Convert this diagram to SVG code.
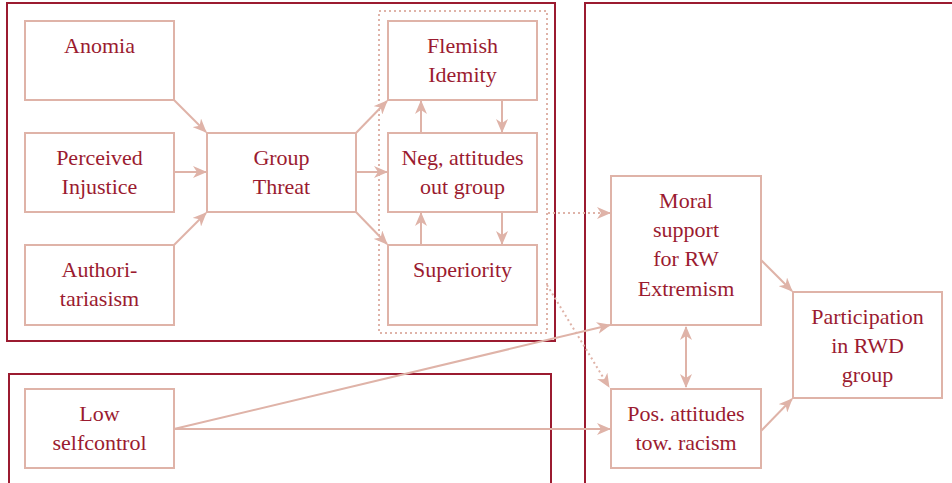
<svg xmlns="http://www.w3.org/2000/svg" width="952" height="483" viewBox="0 0 952 483">
<style>
.frame{fill:none;stroke:#9b1b30;stroke-width:2}
.nb{fill:#fff;stroke:#dfb3a8;stroke-width:2}
text{font-family:Liberation Serif,DejaVu Serif,serif;font-size:22px;fill:#9b1b30;text-anchor:middle}
.c{fill:none;stroke:#dfb3a8;stroke-width:2}
.d{fill:none;stroke:#dfb3a8;stroke-width:2;stroke-dasharray:2 3}
</style>
<defs>
<marker id="ah" markerUnits="userSpaceOnUse" markerWidth="14" markerHeight="12" viewBox="0 0 14 12" refX="13" refY="6" orient="auto-start-reverse">
<path d="M0,0 L14,6 L0,12 L4,6 z" fill="#dfb3a8"/>
</marker>
</defs>
<rect fill="#fff" width="952" height="483"/>
<g id="frames">
<rect class="frame" x="7" y="3" width="548" height="338"/>
<rect class="frame" x="9" y="374" width="542" height="120"/>
<rect class="frame" x="585" y="3" width="380" height="490"/>
<rect x="379" y="11" width="168" height="322" fill="none" stroke="#dfb3a8" stroke-width="2" stroke-dasharray="2 3"/>
</g>
<g id="connectors">
<line class="c" x1="174" y1="100" x2="206" y2="132" marker-end="url(#ah)"/>
<line class="c" x1="174" y1="172" x2="206" y2="172" marker-end="url(#ah)"/>
<line class="c" x1="174" y1="245" x2="206" y2="213" marker-end="url(#ah)"/>
<line class="c" x1="356" y1="133" x2="387" y2="101" marker-end="url(#ah)"/>
<line class="c" x1="356" y1="172" x2="387" y2="172" marker-end="url(#ah)"/>
<line class="c" x1="356" y1="212" x2="387" y2="244" marker-end="url(#ah)"/>
<line class="c" x1="421" y1="133" x2="421" y2="101" marker-end="url(#ah)"/>
<line class="c" x1="502" y1="100" x2="502" y2="132" marker-end="url(#ah)"/>
<line class="c" x1="421" y1="245" x2="421" y2="213" marker-end="url(#ah)"/>
<line class="c" x1="502" y1="212" x2="502" y2="244" marker-end="url(#ah)"/>
<line class="d" x1="548" y1="213" x2="610" y2="213" marker-end="url(#ah)"/>
<line class="d" x1="547" y1="285" x2="609" y2="387" marker-end="url(#ah)"/>
<line class="c" x1="174" y1="429" x2="610" y2="325" marker-end="url(#ah)"/>
<line class="c" x1="174" y1="429" x2="610" y2="429" marker-end="url(#ah)"/>
<line class="c" x1="686" y1="327" x2="686" y2="387" marker-start="url(#ah)" marker-end="url(#ah)"/>
<line class="c" x1="761" y1="260" x2="792" y2="291" marker-end="url(#ah)"/>
<line class="c" x1="761" y1="431" x2="792" y2="399" marker-end="url(#ah)"/>
</g>
<g id="anomia"><rect class="nb" x="25" y="21" width="149" height="79"/><text font-family="Liberation Serif, DejaVu Serif, serif" x="99.5" y="53">Anomia</text></g>
<g id="injustice"><rect class="nb" x="25" y="133" width="149" height="79"/><text x="99.5" y="165">Perceived</text><text x="99.5" y="194">Injustice</text></g>
<g id="authoritarianism"><rect class="nb" x="25" y="245" width="149" height="80"/><text x="99.5" y="277">Authori-</text><text x="99.5" y="306">tariasism</text></g>
<g id="threat"><rect class="nb" x="207" y="133" width="149" height="79"/><text x="281.5" y="165">Group</text><text x="281.5" y="194">Threat</text></g>
<g id="flemish"><rect class="nb" x="388" y="21" width="149" height="79"/><text x="462.5" y="53">Flemish</text><text x="462.5" y="82">Idemity</text></g>
<g id="neg"><rect class="nb" x="388" y="133" width="149" height="79"/><text x="462.5" y="165">Neg, attitudes</text><text x="462.5" y="194">out group</text></g>
<g id="superiority"><rect class="nb" x="388" y="245" width="149" height="80"/><text x="462.5" y="277">Superiority</text></g>
<g id="lowself"><rect class="nb" x="25" y="389" width="149" height="79"/><text x="99.5" y="421">Low</text><text x="99.5" y="450">selfcontrol</text></g>
<g id="moral"><rect class="nb" x="611" y="176" width="150" height="149"/><text x="686" y="208">Moral</text><text x="686" y="237">support</text><text x="686" y="266">for RW</text><text x="686" y="296">Extremism</text></g>
<g id="racism"><rect class="nb" x="611" y="389" width="150" height="79"/><text x="686" y="421">Pos. attitudes</text><text x="686" y="450">tow. racism</text></g>
<g id="participation"><rect class="nb" x="793" y="292" width="149" height="106"/><text x="867.5" y="324">Participation</text><text x="867.5" y="353">in RWD</text><text x="867.5" y="382">group</text></g>
</svg>
